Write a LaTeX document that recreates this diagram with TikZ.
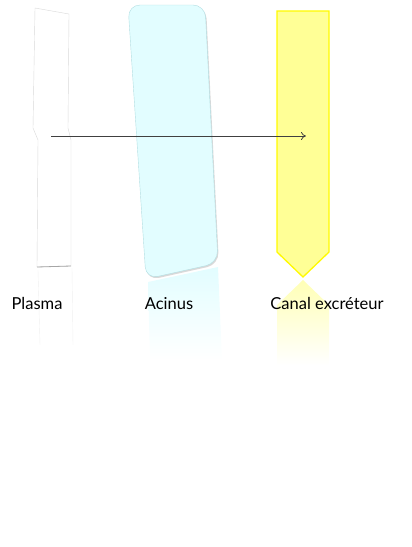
\documentclass[tikz,border=0pt]{standalone}
\usepackage{fontspec}
\setmainfont{Lato}
\usetikzlibrary{arrows.meta, positioning, shadows}

\definecolor{acinusfill}{RGB}{226,253,255}
\definecolor{acinusline}{RGB}{178,222,226}
\definecolor{canalfill}{RGB}{255,255,150}
\definecolor{canalline}{RGB}{255,250,0}

\begin{document}
\begin{tikzpicture}[
  x=1pt, y=-1pt,
  font=\fontsize{16.5}{19}\selectfont,
  lbl/.style={anchor=base, inner sep=0pt},
  arr/.style={-{To[length=5pt,width=8pt]}, draw=black!75, line width=0.8pt},
  refl/.style={bottom color=white}
]
  \useasboundingbox (0,0) rectangle (412,547);

  % reflections
  \draw[black!6] (38,270) -- (40,345) (72,268) -- (73,345);
  \shade[refl, top color=acinusfill] (148,282) -- (218,267) -- (222,360) -- (150,360) -- cycle;
  \shade[refl, top color=canalfill!70] (303,280) -- (329,305) -- (329,365) -- (277,365) -- (277,305) -- cycle;

  % plasma
  \draw[black!15, fill=white] (35,8) -- (69,14) -- (68,128) -- (71,140) -- (71,266)
    -- (37,267) -- (38,140) -- (33,128) -- cycle;
  \draw[black!35, line width=0.8pt] (37,267) -- (71,266);

  % acinus
  \draw[rounded corners=12pt, fill=acinusfill, draw=acinusline,
        drop shadow={shadow xshift=1pt, shadow yshift=-1.5pt, opacity=0.3}]
    (128,5) -- (205,5) -- (218,263) -- (146,279) -- cycle;

  % canal
  \draw[canalline, line width=1.3pt, fill=canalfill] (277,11) -- (329,11) -- (329,252)
    -- (303,277) -- (277,252) -- cycle;

  \coordinate (src) at (51,136);
  \coordinate (dst) at (306,136);
  \draw[arr] (src) -- (dst);

  \node[lbl] (plasma) at (37,309) {Plasma};
  \node[lbl] (acinus) at (169,309) {Acinus};
  \node[lbl] (canal) at (327,309) {Canal excréteur};
\end{tikzpicture}
\end{document}
